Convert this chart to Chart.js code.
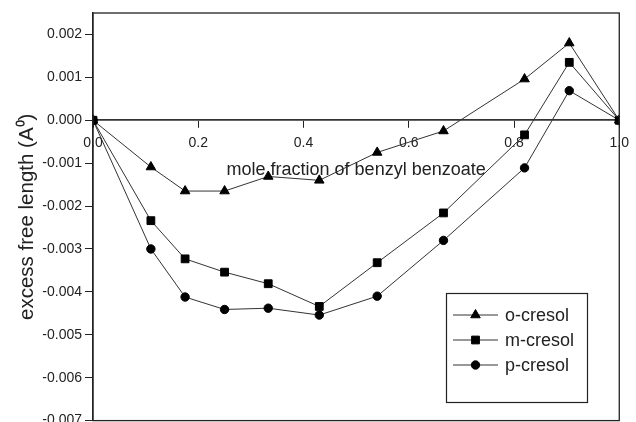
<!DOCTYPE html>
<html><head><meta charset="utf-8">
<script src="https://cdn.jsdelivr.net/npm/chart.js@4/dist/chart.umd.min.js"></script>
<style>
html,body{margin:0;padding:0;background:#fff;overflow:hidden;}
#wrap{position:relative;width:636px;height:432px;}
</style></head><body>
<div id="wrap"><canvas id="c"></canvas></div>
<script>
const moleFraction = [0, 0.11, 0.175, 0.25, 0.333, 0.43, 0.54, 0.666, 0.82, 0.905, 1.0];
const oCresol = [0, -0.00109, -0.00165, -0.00165, -0.00131, -0.00140, -0.00075, -0.00025, 0.00096, 0.00180, 0];
const mCresol = [0, -0.00234, -0.00323, -0.00354, -0.00381, -0.00434, -0.00332, -0.00216, -0.00034, 0.00135, 0];
const pCresol = [0, -0.00300, -0.00412, -0.00441, -0.00438, -0.00454, -0.00410, -0.00280, -0.00111, 0.00069, 0];
const seriesLabels = ['o-cresol', 'm-cresol', 'p-cresol'];
const xTicks = [0, 0.2, 0.4, 0.6, 0.8, 1.0];
const yTicks = [-0.007, -0.006, -0.005, -0.004, -0.003, -0.002, -0.001, 0.000, 0.001, 0.002];
const xTitle = 'mole fraction of benzyl benzoate';
const yTitle = 'excess free length (A\u2070)';

const FONT = '"Liberation Sans", Arial, sans-serif';
const INK = '#222';

function pts(ys) { return moleFraction.map((x, i) => ({x: x, y: ys[i]})); }
function ds(label, ys, style, r) {
  return {
    label: label, data: pts(ys), showLine: true, tension: 0,
    borderColor: '#333', borderWidth: 1,
    pointStyle: style, pointRadius: r,
    pointBackgroundColor: '#000', pointBorderColor: '#000', pointBorderWidth: 1
  };
}

const framePlugin = {
  id: 'frame',
  afterDraw(chart) {
    const {ctx, chartArea: a} = chart;
    ctx.save();
    ctx.strokeStyle = INK; ctx.lineWidth = 1.3;
    ctx.strokeRect(a.left, a.top, a.right - a.left, a.bottom - a.top);
    ctx.restore();
  }
};

const boxLegend = {
  id: 'boxLegend',
  afterDraw(chart) {
    const ctx = chart.ctx;
    const bx = 446.5, by = 293.5, bw = 141, bh = 109;
    ctx.save();
    ctx.fillStyle = '#fff';
    ctx.fillRect(bx, by, bw, bh);
    ctx.strokeStyle = INK; ctx.lineWidth = 1.2;
    ctx.strokeRect(bx, by, bw, bh);
    chart.data.datasets.forEach((d, i) => {
      const y = by + 21.5 + i * 25;
      ctx.strokeStyle = d.borderColor; ctx.lineWidth = 1;
      ctx.beginPath(); ctx.moveTo(453, y); ctx.lineTo(498, y); ctx.stroke();
      ctx.fillStyle = '#000'; ctx.strokeStyle = '#000';
      Chart.helpers.drawPoint(ctx, {pointStyle: d.pointStyle, radius: d.pointRadius, borderWidth: 1, rotation: 0}, 475.5, y);
      ctx.fillStyle = INK;
      ctx.font = '18px ' + FONT;
      ctx.textBaseline = 'middle'; ctx.textAlign = 'left';
      ctx.fillText(d.label, 505, y + 1);
    });
    ctx.restore();
  }
};

new Chart(document.getElementById('c'), {
  type: 'scatter',
  data: {
    datasets: [
      ds(seriesLabels[0], oCresol, 'triangle', 5.5),
      ds(seriesLabels[1], mCresol, 'rect', 5.5),
      ds(seriesLabels[2], pCresol, 'circle', 4.2)
    ]
  },
  options: {
    responsive: true, maintainAspectRatio: false, animation: false, devicePixelRatio: 1,
    layout: {padding: {left: 0, right: 12.5, top: 13, bottom: 0}},
    plugins: {legend: {display: false}, tooltip: {enabled: false}},
    scales: {
      x: {
        type: 'linear', position: {y: 0}, min: 0, max: 1,
        afterBuildTicks: s => { s.ticks = xTicks.map(v => ({value: v})); },
        border: {display: true, color: '#333', width: 1.8},
        grid: {drawOnChartArea: false, drawTicks: true, tickLength: 7, color: INK, lineWidth: 1},
        ticks: {color: INK, font: {family: FONT, size: 14}, padding: 7, maxRotation: 0,
          callback: v => Number(v).toFixed(1)},
        title: {display: true, text: xTitle, color: INK, font: {family: FONT, size: 18}, padding: {top: 1, bottom: 0}}
      },
      y: {
        type: 'linear', position: 'left', min: -0.007, max: 0.0025,
        afterBuildTicks: s => { s.ticks = yTicks.map(v => ({value: v})); },
        afterFit: s => { s.width = 93; },
        border: {display: true, color: INK, width: 1.3},
        grid: {drawOnChartArea: false, drawTicks: true, tickLength: 8, color: INK, lineWidth: 1},
        ticks: {color: INK, font: {family: FONT, size: 14}, padding: 3,
          callback: v => Number(v).toFixed(3)},
        title: {display: true, text: yTitle, color: INK, font: {family: FONT, size: 20.5}, padding: {top: 15, bottom: 0}}
      }
    }
  },
  plugins: [framePlugin, boxLegend]
});
</script>
</body></html>
